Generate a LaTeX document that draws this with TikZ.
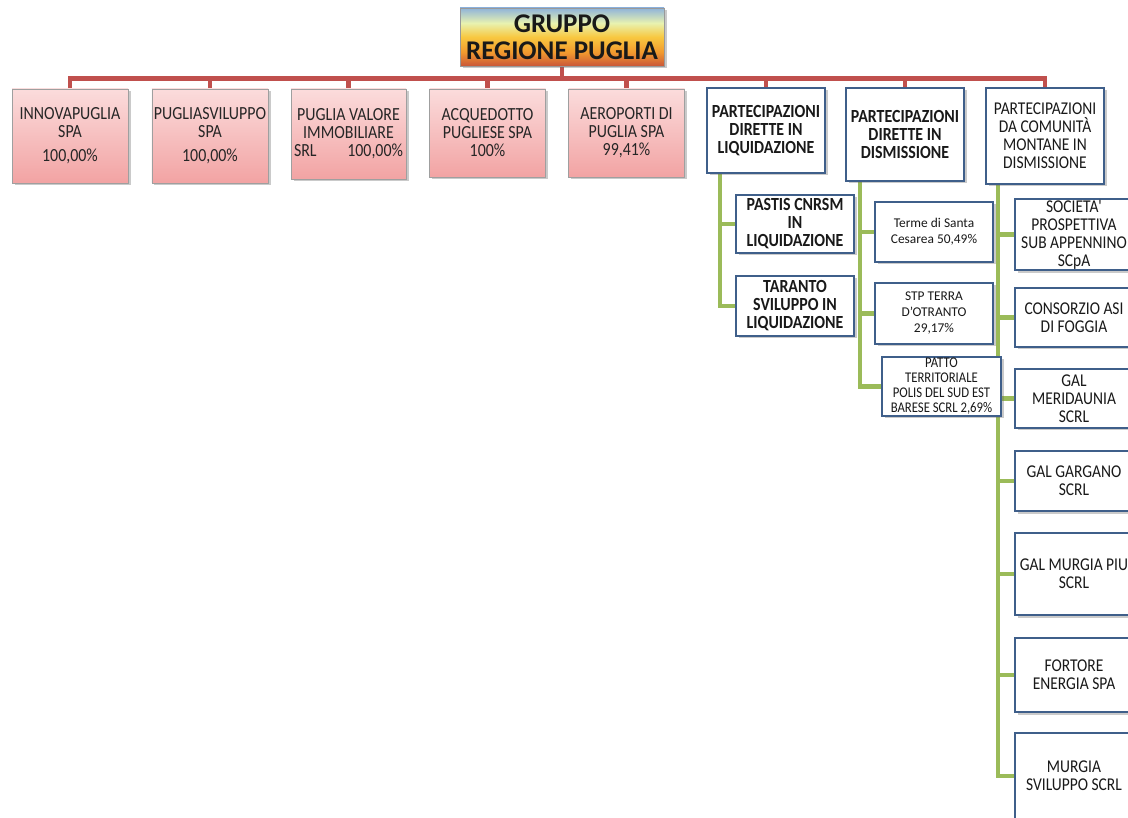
\documentclass[tikz,border=0pt]{standalone}
\usepackage{fontspec}
\setmainfont{Carlito}
\newfontfamily\cond[FakeStretch=0.86]{Carlito}
\newcommand\nolsk{\lineskiplimit-30pt\relax}
\usetikzlibrary{shadows,backgrounds}
\definecolor{rline}{HTML}{C0504D}
\definecolor{gline}{HTML}{9BBB59}
\definecolor{bborder}{HTML}{3F5F8A}
\definecolor{pinktop}{HTML}{FBDCDC}
\definecolor{pinkbot}{HTML}{F2A3A3}
\definecolor{rt}{HTML}{8FB4DA}
\definecolor{rl}{HTML}{E8F2B0}
\definecolor{ry}{HTML}{F8C840}
\definecolor{ro}{HTML}{F29A2E}
\definecolor{rb}{HTML}{C9573A}
\pgfdeclareverticalshading{rootshade}{100bp}{color(0bp)=(rb); color(25bp)=(rb); color(37bp)=(ro); color(50bp)=(ry); color(62bp)=(rl); color(75bp)=(rt); color(100bp)=(rt)}
\begin{document}
\begin{tikzpicture}[x=1pt,y=-1pt,
  shad/.style={drop shadow={shadow xshift=2.5pt,shadow yshift=-2.5pt,opacity=0.35,fill=black!60}},
  rootbox/.style={draw=gray!80, line width=0.6pt, shading=rootshade, shad, align=center, inner sep=1pt,
    font=\fontsize{27}{27}\selectfont\bfseries\nolsk, text=black!90},
  pinkbox/.style={draw=gray!75, line width=0.7pt, top color=pinktop, bottom color=pinkbot, shad,
    align=center, inner xsep=2pt, inner ysep=1pt,
    font=\cond\fontsize{18.5}{18}\selectfont\nolsk, text=black!85},
  bluebox/.style={draw=bborder, line width=2pt, fill=white, shad, align=center, inner xsep=2pt, inner ysep=1pt,
    font=\cond\fontsize{18}{18}\selectfont\nolsk, text=black!90},
  boldtxt/.style={font=\cond\fontsize{18.5}{18}\selectfont\bfseries\nolsk},
  smalltxt/.style={font=\fontsize{13.4}{16}\selectfont\nolsk},
  tinytxt/.style={font=\cond\fontsize{14.8}{15}\selectfont\nolsk},
  redc/.style={draw=rline, line width=4.5pt, line join=miter},
  greenc/.style={draw=gline, line width=4.5pt, line join=miter}]
\useasboundingbox (0,0) rectangle (1128,818);

% root
\node[rootbox, minimum width=204pt, minimum height=58pt] (root) at (562,37) {GRUPPO\\REGIONE PUGLIA};

% top row
\node[pinkbox, minimum width=116pt, minimum height=94pt] (n1) at (70,136) {INNOVAPUGLIA\\SPA\\[6pt]100,00\%};
\node[pinkbox, minimum width=116pt, minimum height=94pt] (n2) at (210,136) {PUGLIASVILUPPO\\SPA\\[6pt]100,00\%};
\node[pinkbox, minimum width=115pt, minimum height=90pt] (n3) at (348.5,134) {PUGLIA VALORE\\IMMOBILIARE\\\makebox[109pt]{SRL\hfill 100,00\%}};
\node[pinkbox, minimum width=116pt, minimum height=88pt] (n4) at (487.5,133) {ACQUEDOTTO\\PUGLIESE SPA\\100\%};
\node[pinkbox, minimum width=116pt, minimum height=88pt] (n5) at (626.5,133) {AEROPORTI DI\\PUGLIA SPA\\99,41\%};

\node[bluebox, boldtxt, minimum width=118pt, minimum height=85pt] (b6) at (766,130.5) {PARTECIPAZIONI\\DIRETTE IN\\LIQUIDAZIONE};
\node[bluebox, boldtxt, minimum width=118pt, minimum height=93pt] (b7) at (905,134.5) {PARTECIPAZIONI\\DIRETTE IN\\DISMISSIONE};
\node[bluebox, minimum width=118pt, minimum height=96pt] (b8) at (1045,136) {PARTECIPAZIONI\\DA COMUNIT\`A\\MONTANE IN\\DISMISSIONE};

% column 6
\node[bluebox, boldtxt, minimum width=118pt, minimum height=58pt] (pastis) at (795,224) {PASTIS CNRSM\\IN\\LIQUIDAZIONE};
\node[bluebox, boldtxt, minimum width=118pt, minimum height=60pt] (taranto) at (795,306) {TARANTO\\SVILUPPO IN\\LIQUIDAZIONE};

% column 7
\node[bluebox, smalltxt, minimum width=118pt, minimum height=60pt] (terme) at (934,232) {Terme di Santa\\Cesarea 50,49\%};
\node[bluebox, smalltxt, minimum width=118pt, minimum height=61pt] (stp) at (934,313.5) {STP TERRA\\D'OTRANTO\\29,17\%};
\node[bluebox, tinytxt, minimum width=119pt, minimum height=59pt] (patto) at (941.5,386.5) {PATTO\\TERRITORIALE\\POLIS DEL SUD EST\\BARESE SCRL 2,69\%};

% column 8
\node[bluebox, minimum width=118pt, minimum height=59pt] (soc) at (1074,234.5) {SOCIETA'\\PROSPETTIVA\\SUB APPENNINO\\SCpA};
\node[bluebox, minimum width=118pt, minimum height=59pt] (cons) at (1074,317.5) {CONSORZIO ASI\\DI FOGGIA};
\node[bluebox, minimum width=118pt, minimum height=59pt] (meri) at (1074,398.5) {GAL\\MERIDAUNIA\\SCRL};
\node[bluebox, minimum width=118pt, minimum height=60pt] (garg) at (1074,481) {GAL GARGANO\\SCRL};
\node[bluebox, minimum width=118pt, minimum height=82pt] (murg) at (1074,574) {GAL MURGIA PIU\\SCRL};
\node[bluebox, minimum width=118pt, minimum height=74pt] (fort) at (1074,675) {FORTORE\\ENERGIA SPA};
\node[bluebox, minimum width=118pt, minimum height=86pt] (msv) at (1074,776) {MURGIA\\SVILUPPO SCRL};

\begin{scope}[on background layer]
  \foreach \c in {n1,n2,n3,n4,n5,b6,b7,b8}
    \draw[redc] (root.south) -- ++(0,12) -| (\c.north);
  \draw[greenc] ([xshift=-46pt]b6.south) |- (pastis.west);
  \draw[greenc] ([xshift=-46pt]b6.south) |- (taranto.west);
  \draw[greenc] ([xshift=-45pt]b7.south) |- (terme.west);
  \draw[greenc] ([xshift=-45pt]b7.south) |- (stp.west);
  \draw[greenc] ([xshift=-45pt]b7.south) |- (patto.west);
  \foreach \c in {soc,cons,meri,garg,murg,fort,msv}
    \draw[greenc] ([xshift=-47pt]b8.south) |- (\c.west);
\end{scope}
\end{tikzpicture}
\end{document}
